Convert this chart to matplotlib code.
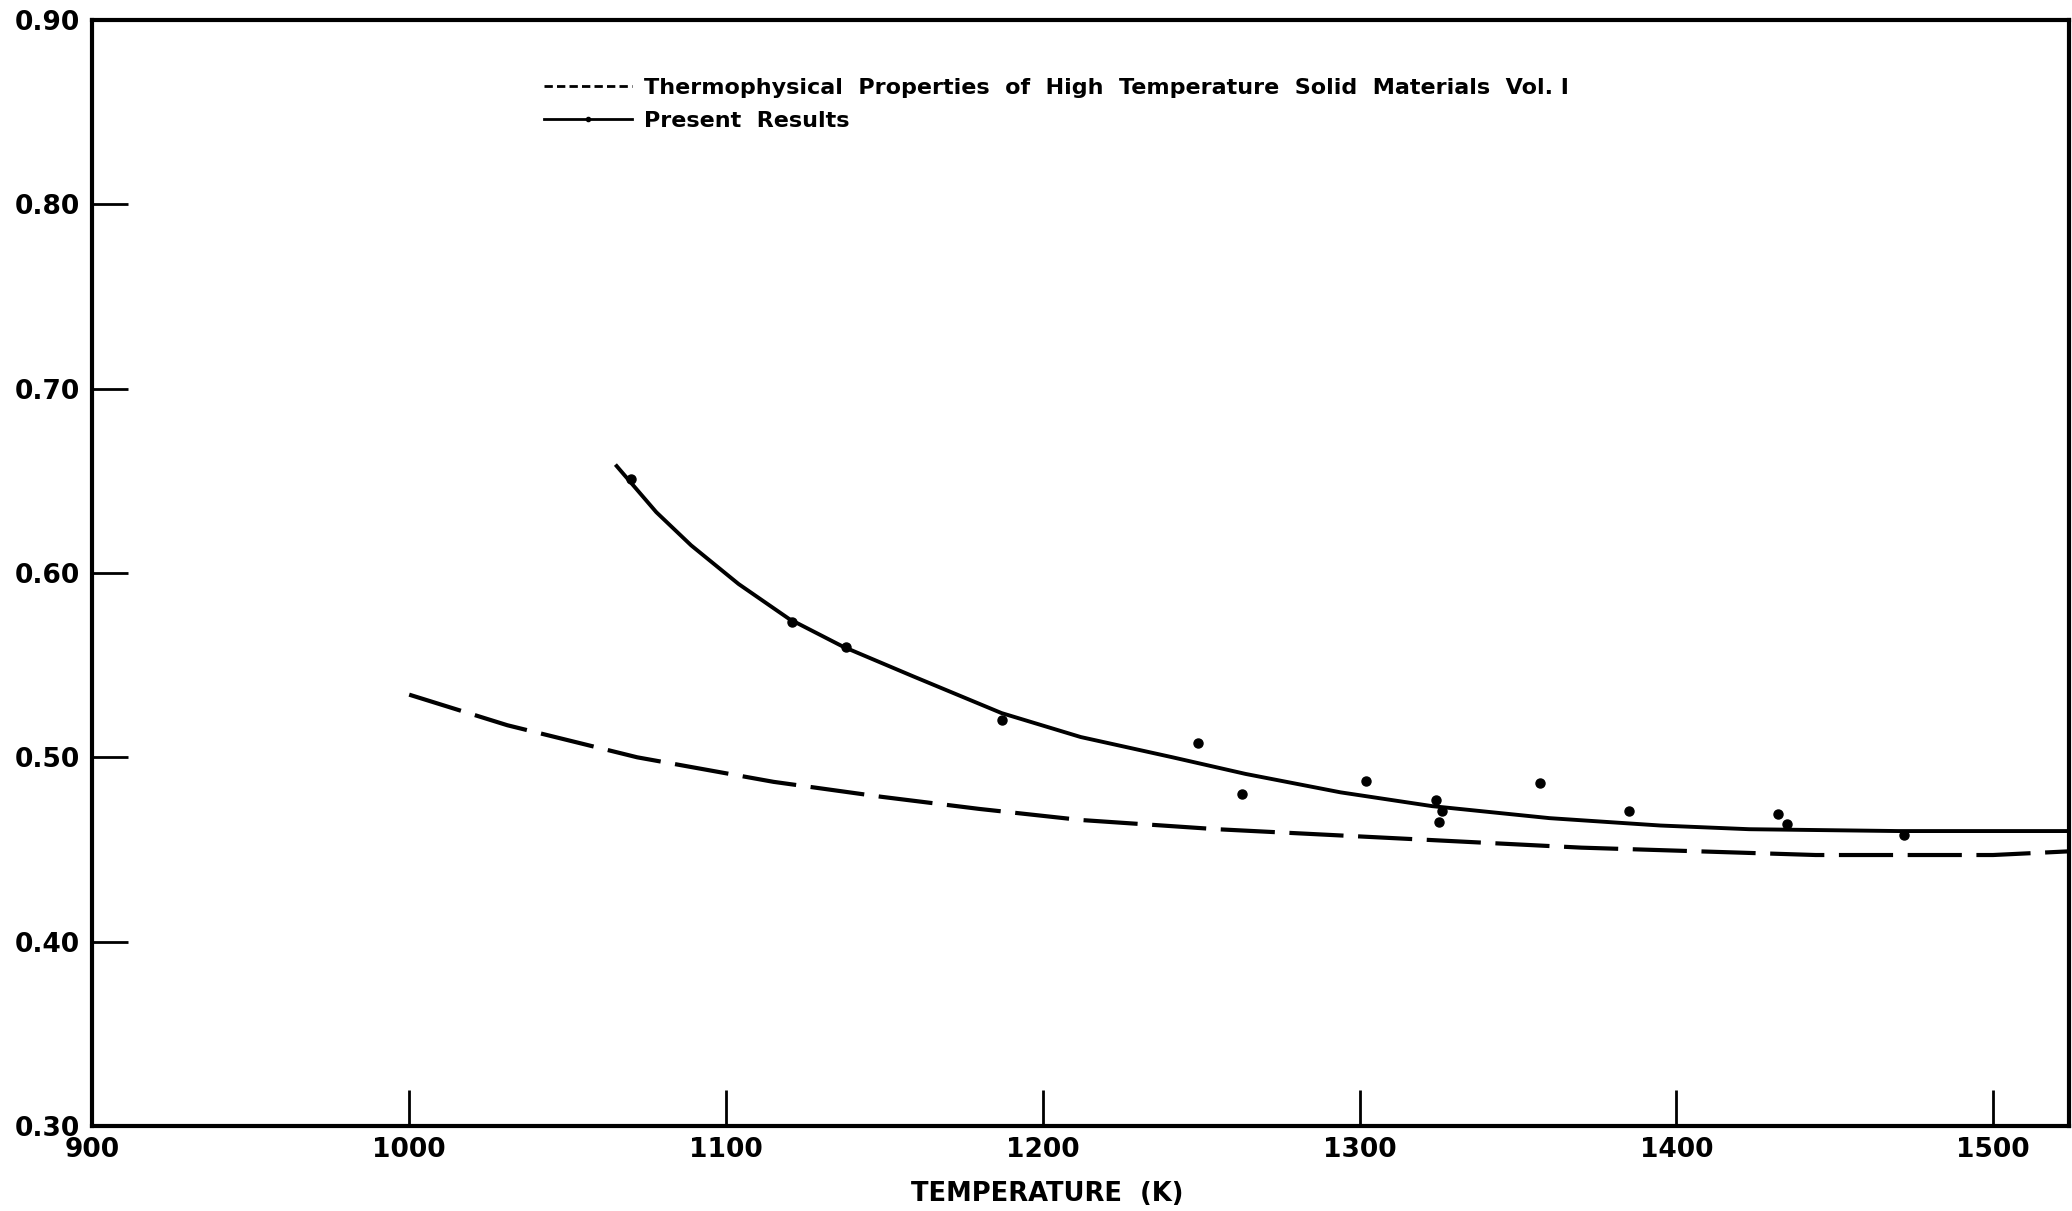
import matplotlib.pyplot as plt
from matplotlib.lines import Line2D

# reference curve (Thermophysical Properties ... Vol. I)
ref_t = [1000, 1031, 1072, 1115, 1149, 1180, 1212, 1255, 1301, 1370, 1444, 1500, 1524]
ref_v = [0.534, 0.5174, 0.500, 0.4867, 0.4786, 0.472, 0.466, 0.461, 0.457, 0.451, 0.447, 0.447, 0.449]

# present results, fitted curve
fit_t = [1065.5, 1078, 1089, 1104, 1120, 1137, 1159, 1187, 1212, 1241, 1264, 1294,
         1323, 1360, 1395, 1423, 1470, 1524]
fit_v = [0.658, 0.633, 0.615, 0.594, 0.575, 0.560, 0.544, 0.524, 0.511, 0.500, 0.491, 0.481,
         0.4735, 0.467, 0.463, 0.461, 0.460, 0.460]

# present results, measured points
pts_t = [1070, 1121, 1138, 1187, 1249, 1263, 1302, 1324, 1326, 1325, 1357, 1385, 1432, 1435, 1472]
pts_v = [0.651, 0.5735, 0.560, 0.520, 0.508, 0.480, 0.487, 0.477, 0.471, 0.465, 0.486, 0.471, 0.4695, 0.464, 0.458]

xticks = [900, 1000, 1100, 1200, 1300, 1400, 1500]
yticks = [0.30, 0.40, 0.50, 0.60, 0.70, 0.80, 0.90]

plt.rcParams['font.family'] = ['DejaVu Sans']
plt.rcParams['font.weight'] = 'bold'

fig = plt.figure(figsize=(20.72, 12.11), dpi=100)
ax = fig.add_axes([0.0446, 0.0702, 0.954, 0.9133])

ax.plot(ref_t, ref_v, color='black', lw=3, dashes=(13, 3.5))
ax.plot(fit_t, fit_v, color='black', lw=2.8)
ax.plot(pts_t, pts_v, 'o', color='black', ms=6.5, ls='none')

ax.set_xlim(900, 1524)
ax.set_ylim(0.30, 0.90)
ax.set_xticks(xticks)
ax.set_xticklabels([str(t) for t in xticks])
ax.set_yticks(yticks)
ax.set_yticklabels(['%.2f' % v for v in yticks])
ax.tick_params(axis='both', direction='in', length=26, width=2, labelsize=19)
ax.tick_params(axis='x', pad=8)
ax.tick_params(axis='y', pad=9)
for s in ax.spines.values():
    s.set_linewidth(3)

ax.set_xlabel('TEMPERATURE  (K)', fontsize=18.5, fontweight='bold')
ax.xaxis.set_label_coords(0.483, -0.050)

handles = [
    Line2D([], [], color='black', lw=2, dashes=(3, 1.5)),
    Line2D([], [], color='black', lw=2, marker='.', ms=6),
]
labels = ['Thermophysical  Properties  of  High  Temperature  Solid  Materials  Vol. I',
          'Present  Results']
fig.legend(handles, labels, loc='upper left', bbox_to_anchor=(0.2625, 0.936),
           bbox_transform=fig.transFigure, frameon=False,
           handlelength=3.95, handletextpad=0.56, labelspacing=0.6,
           borderpad=0, borderaxespad=0, numpoints=1,
           prop={'weight': 'bold', 'size': 16})

fig.savefig('out.png', dpi=100)
